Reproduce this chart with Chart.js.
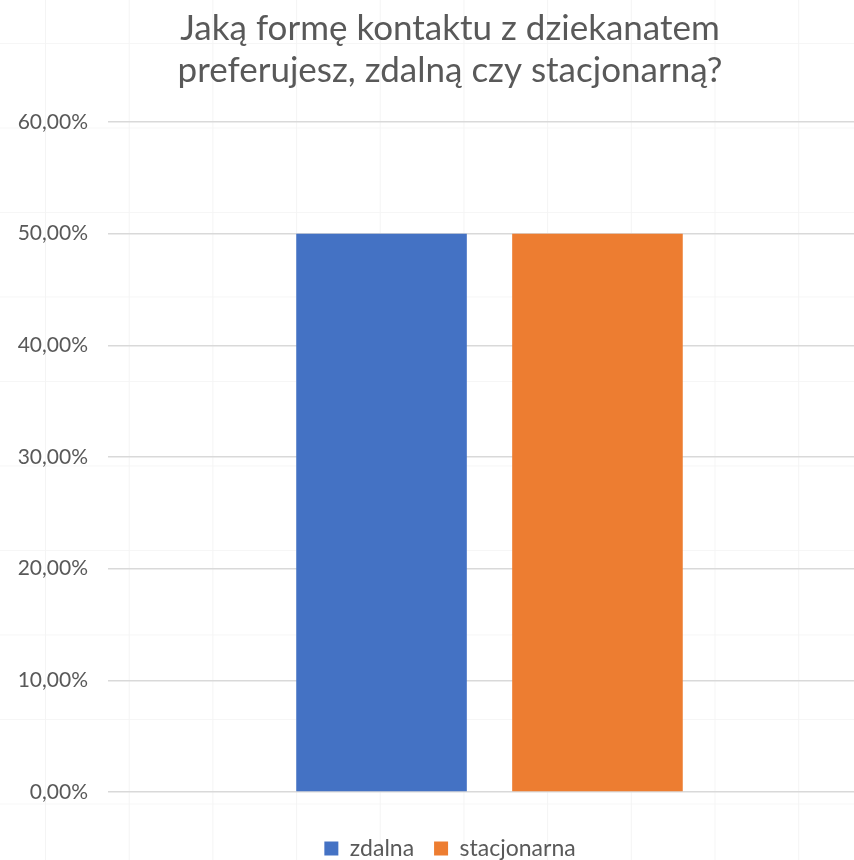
<!DOCTYPE html>
<html>
<head>
<meta charset="utf-8">
<script src="https://cdn.jsdelivr.net/npm/chart.js@4"></script>
<style>
  html, body { margin: 0; padding: 0; overflow: hidden; }
  body {
    background-color: #fff;
    /* faint worksheet cells showing through the chart */
    background-image:
      linear-gradient(to right, #f4f4f4 1px, transparent 1px),
      linear-gradient(to bottom, #f6f6f6 1px, transparent 1px);
    background-size: 83.7px 84.5px;
    background-position: 45px 43px;
  }
  #wrap { width: 900px; height: 860px; }
</style>
</head>
<body>
<div id="wrap"><canvas id="chart" width="900" height="860"></canvas></div>
<script>
const categories = [""];
const seriesNames = ["zdalna", "stacjonarna"];
const seriesValues = [[50], [50]];
const seriesColors = ["#4472C4", "#ED7D31"];
const yTicks = [0, 10, 20, 30, 40, 50, 60];

const font = "Lato, 'Open Sans', sans-serif";

const ctx = document.getElementById("chart").getContext("2d");
new Chart(ctx, {
    type: "bar",
    data: {
        labels: categories,
        datasets: seriesNames.map((name, i) => ({
            label: name,
            data: seriesValues[i],
            backgroundColor: seriesColors[i],
            barPercentage: 0.79,
            categoryPercentage: 0.566
        }))
    },
    options: {
        responsive: false,
        animation: false,
        layout: { padding: { left: 0, right: 0, top: 8, bottom: -10 } },
        plugins: {
            title: {
                display: true,
                text: ["Jaką formę kontaktu z dziekanatem", "preferujesz, zdalną czy stacjonarną?"],
                color: "#595959",
                font: { family: font, size: 35, weight: "normal", lineHeight: 1.2 },
                padding: { top: 0, bottom: 30 }
            },
            legend: {
                position: "bottom",
                labels: {
                    color: "#595959",
                    font: { family: font, size: 23 },
                    boxWidth: 14,
                    boxHeight: 14,
                    padding: 20
                }
            },
            tooltip: { enabled: false }
        },
        scales: {
            x: {
                grid: { display: false },
                border: { display: false },
                ticks: { display: false },
                afterFit: s => { s.height = 25; }
            },
            y: {
                min: 0,
                max: 60,
                afterBuildTicks: s => { s.ticks = yTicks.map(v => ({ value: v })); },
                afterFit: s => { s.width = 108; },
                grid: { color: "#d9d9d9", lineWidth: 1.5, drawTicks: false },
                border: { display: false },
                ticks: {
                    color: "#595959",
                    padding: 20,
                    font: { family: font, size: 21 },
                    callback: v => v.toFixed(2).replace(".", ",") + "%"
                }
            },
            // empty right margin of the plot area
            yRight: {
                position: "right",
                grid: { display: false },
                border: { display: false },
                ticks: { display: false },
                afterFit: s => { s.width = 29; }
            }
        }
    }
});
</script>
</body>
</html>
